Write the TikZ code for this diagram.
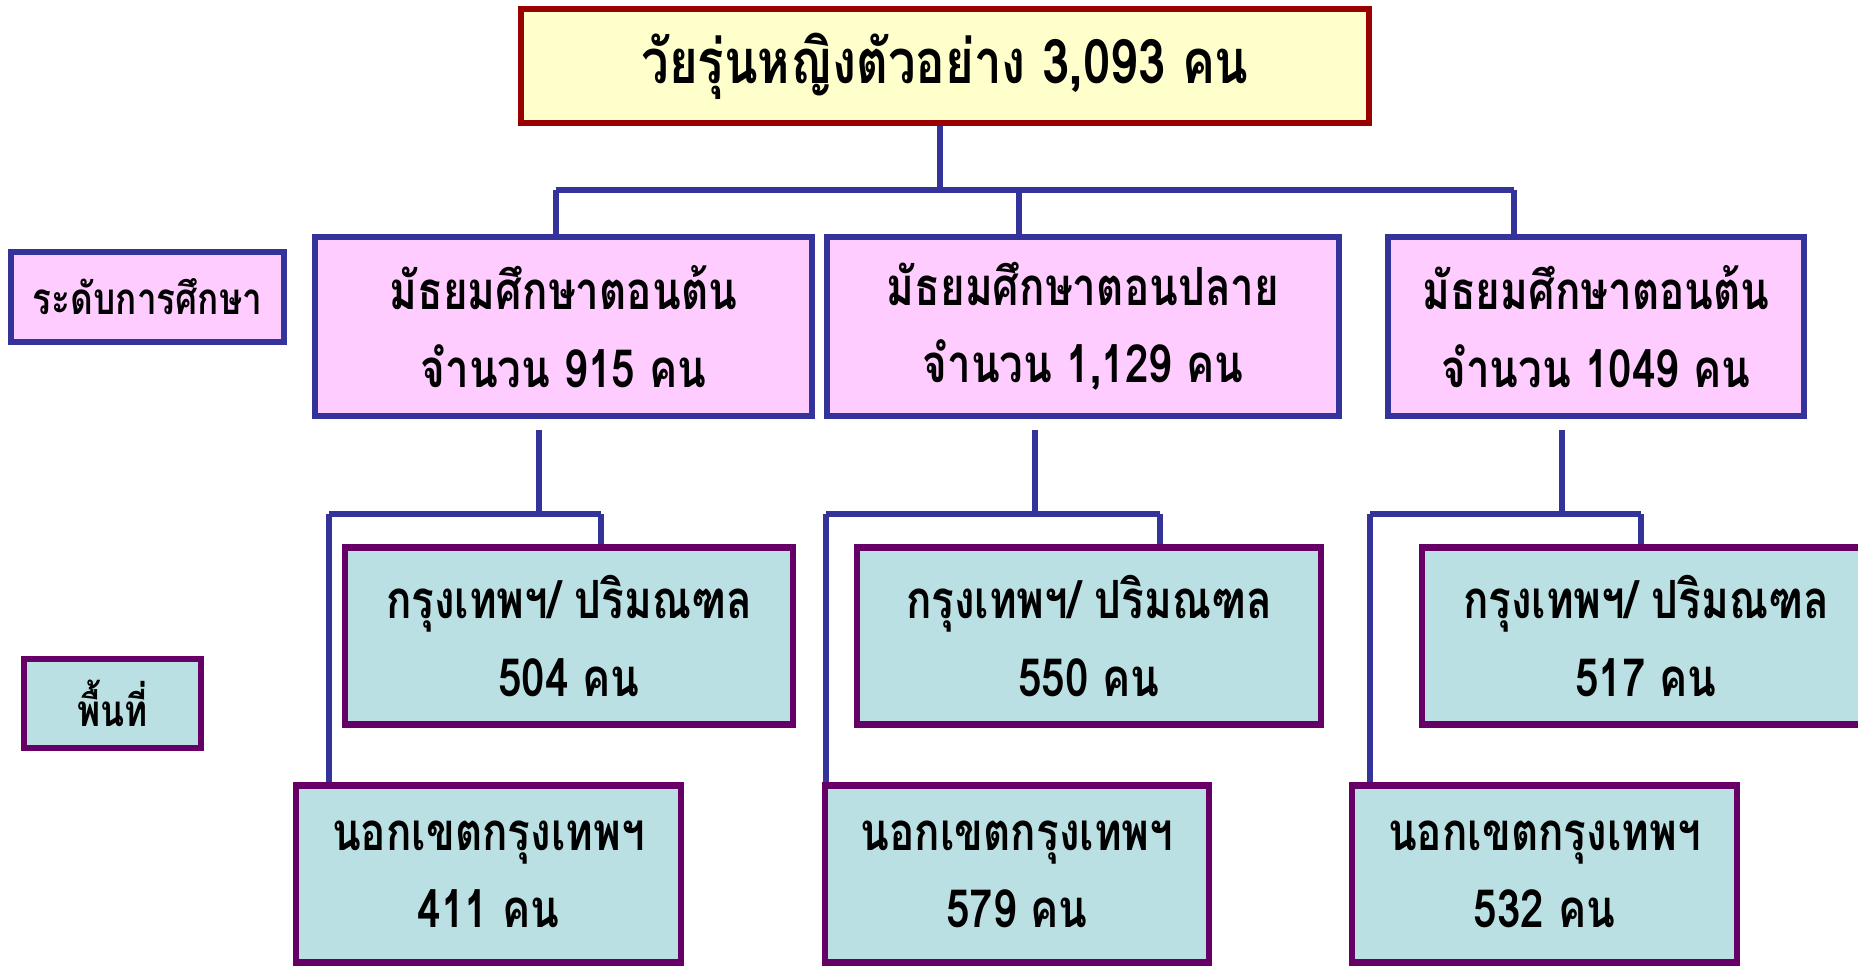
\documentclass[tikz,border=0pt]{standalone}
\usepackage{fontspec}
\newfontfamily\thaifont[Script=Thai,FakeStretch=0.8]{Loma}
\definecolor{topfill}{HTML}{FFFFCC}
\definecolor{topline}{HTML}{990000}
\definecolor{lvlfill}{HTML}{FFCCFF}
\definecolor{lvlline}{HTML}{333399}
\definecolor{areafill}{HTML}{BBE0E3}
\definecolor{arealine}{HTML}{660066}
\newcommand{\blab}[2]{#1\\#2}
\tikzset{
  wire/.style={draw=lvlline,line width=3.2pt},
  topbox/.style={draw=topline,fill=topfill,line width=3.6pt,
                 minimum width=16.96cm,minimum height=2.28cm,
                 font=\thaifont\bfseries\fontsize{35}{40}\selectfont},
  lvlbox/.style={draw=lvlline,fill=lvlfill,line width=3.6pt,align=center,
                 minimum height=3.58cm,
                 font=\thaifont\bfseries\fontsize{30}{44}\selectfont},
  areabox/.style={draw=arealine,fill=areafill,line width=3.6pt,align=center,
                  minimum height=3.54cm,
                  font=\thaifont\bfseries\fontsize{30}{44}\selectfont},
  tagfont/.style={line width=3.6pt,minimum height=1.79cm,
                  font=\thaifont\bfseries\fontsize{25}{30}\selectfont}
}
\begin{document}
\begin{tikzpicture}[x=0.02cm,y=-0.02cm]
 \useasboundingbox (0,0) rectangle (1858,965);

 % top
 \node[topbox] (top) at (945,66) {วัยรุ่นหญิงตัวอย่าง 3,093 คน};

 % education level
 \node[tagfont,draw=lvlline,fill=lvlfill,minimum width=5.46cm] (lvltag) at (147.5,297)
      {ระดับการศึกษา};
 \node[lvlbox,minimum width=9.94cm] (L1) at (563.5,326.5)
      {\blab{มัธยมศึกษาตอนต้น}{จำนวน 915 คน}};
 \node[lvlbox,minimum width=10.24cm] (L2) at (1083,326.5)
      {\blab{มัธยมศึกษาตอนปลาย}{จำนวน 1,129 คน}};
 \node[lvlbox,minimum width=8.32cm] (L3) at (1596,326.5)
      {\blab{มัธยมศึกษาตอนต้น}{จำนวน 1049 คน}};

 % area
 \node[tagfont,draw=arealine,fill=areafill,minimum width=3.54cm] (areatag) at (112.5,703.5)
      {พื้นที่};
 \node[areabox,minimum width=8.96cm] (B1) at (569,636)
      {\blab{กรุงเทพฯ/ ปริมณฑล}{504 คน}};
 \node[areabox,minimum width=9.28cm] (B2) at (1089,636)
      {\blab{กรุงเทพฯ/ ปริมณฑล}{550 คน}};
 \node[areabox,minimum width=8.96cm] (B3) at (1646,636)
      {\blab{กรุงเทพฯ/ ปริมณฑล}{517 คน}};
 \node[areabox,minimum width=7.70cm] (O1) at (488.5,874)
      {\blab{นอกเขตกรุงเทพฯ}{411 คน}};
 \node[areabox,minimum width=7.68cm] (O2) at (1017,874)
      {\blab{นอกเขตกรุงเทพฯ}{579 คน}};
 \node[areabox,minimum width=7.70cm] (O3) at (1544.5,874)
      {\blab{นอกเขตกรุงเทพฯ}{532 คน}};

 % top to levels
 \coordinate (bar1) at (556,190);
 \coordinate (bar2) at (1019,190);
 \coordinate (bar3) at (1514,190);
 \draw[wire] (top.south -| 940,0) -- (bar1 -| 940,0);
 \draw[wire] (bar1) -- (bar3);
 \draw[wire] (bar1) -- (bar1 |- L1.north);
 \draw[wire] (bar2) -- (bar2 |- L2.north);
 \draw[wire] (bar3) -- (bar3 |- L3.north);

 % levels to areas
 \coordinate (s1) at (539,430);
 \coordinate (k1l) at (329,514);
 \coordinate (k1r) at (601,514);
 \draw[wire] (s1) -- (s1 |- k1l);
 \draw[wire] (k1l) -- (k1r);
 \draw[wire] (k1r) -- (k1r |- B1.north);
 \draw[wire] (k1l) -- (k1l |- O1.north);

 \coordinate (s2) at (1035,430);
 \coordinate (k2l) at (826,514);
 \coordinate (k2r) at (1160,514);
 \draw[wire] (s2) -- (s2 |- k2l);
 \draw[wire] (k2l) -- (k2r);
 \draw[wire] (k2r) -- (k2r |- B2.north);
 \draw[wire] (k2l) -- (k2l |- O2.north);

 \coordinate (s3) at (1562,430);
 \coordinate (k3l) at (1370,514);
 \coordinate (k3r) at (1641,514);
 \draw[wire] (s3) -- (s3 |- k3l);
 \draw[wire] (k3l) -- (k3r);
 \draw[wire] (k3r) -- (k3r |- B3.north);
 \draw[wire] (k3l) -- (k3l |- O3.north);
\end{tikzpicture}
\end{document}
